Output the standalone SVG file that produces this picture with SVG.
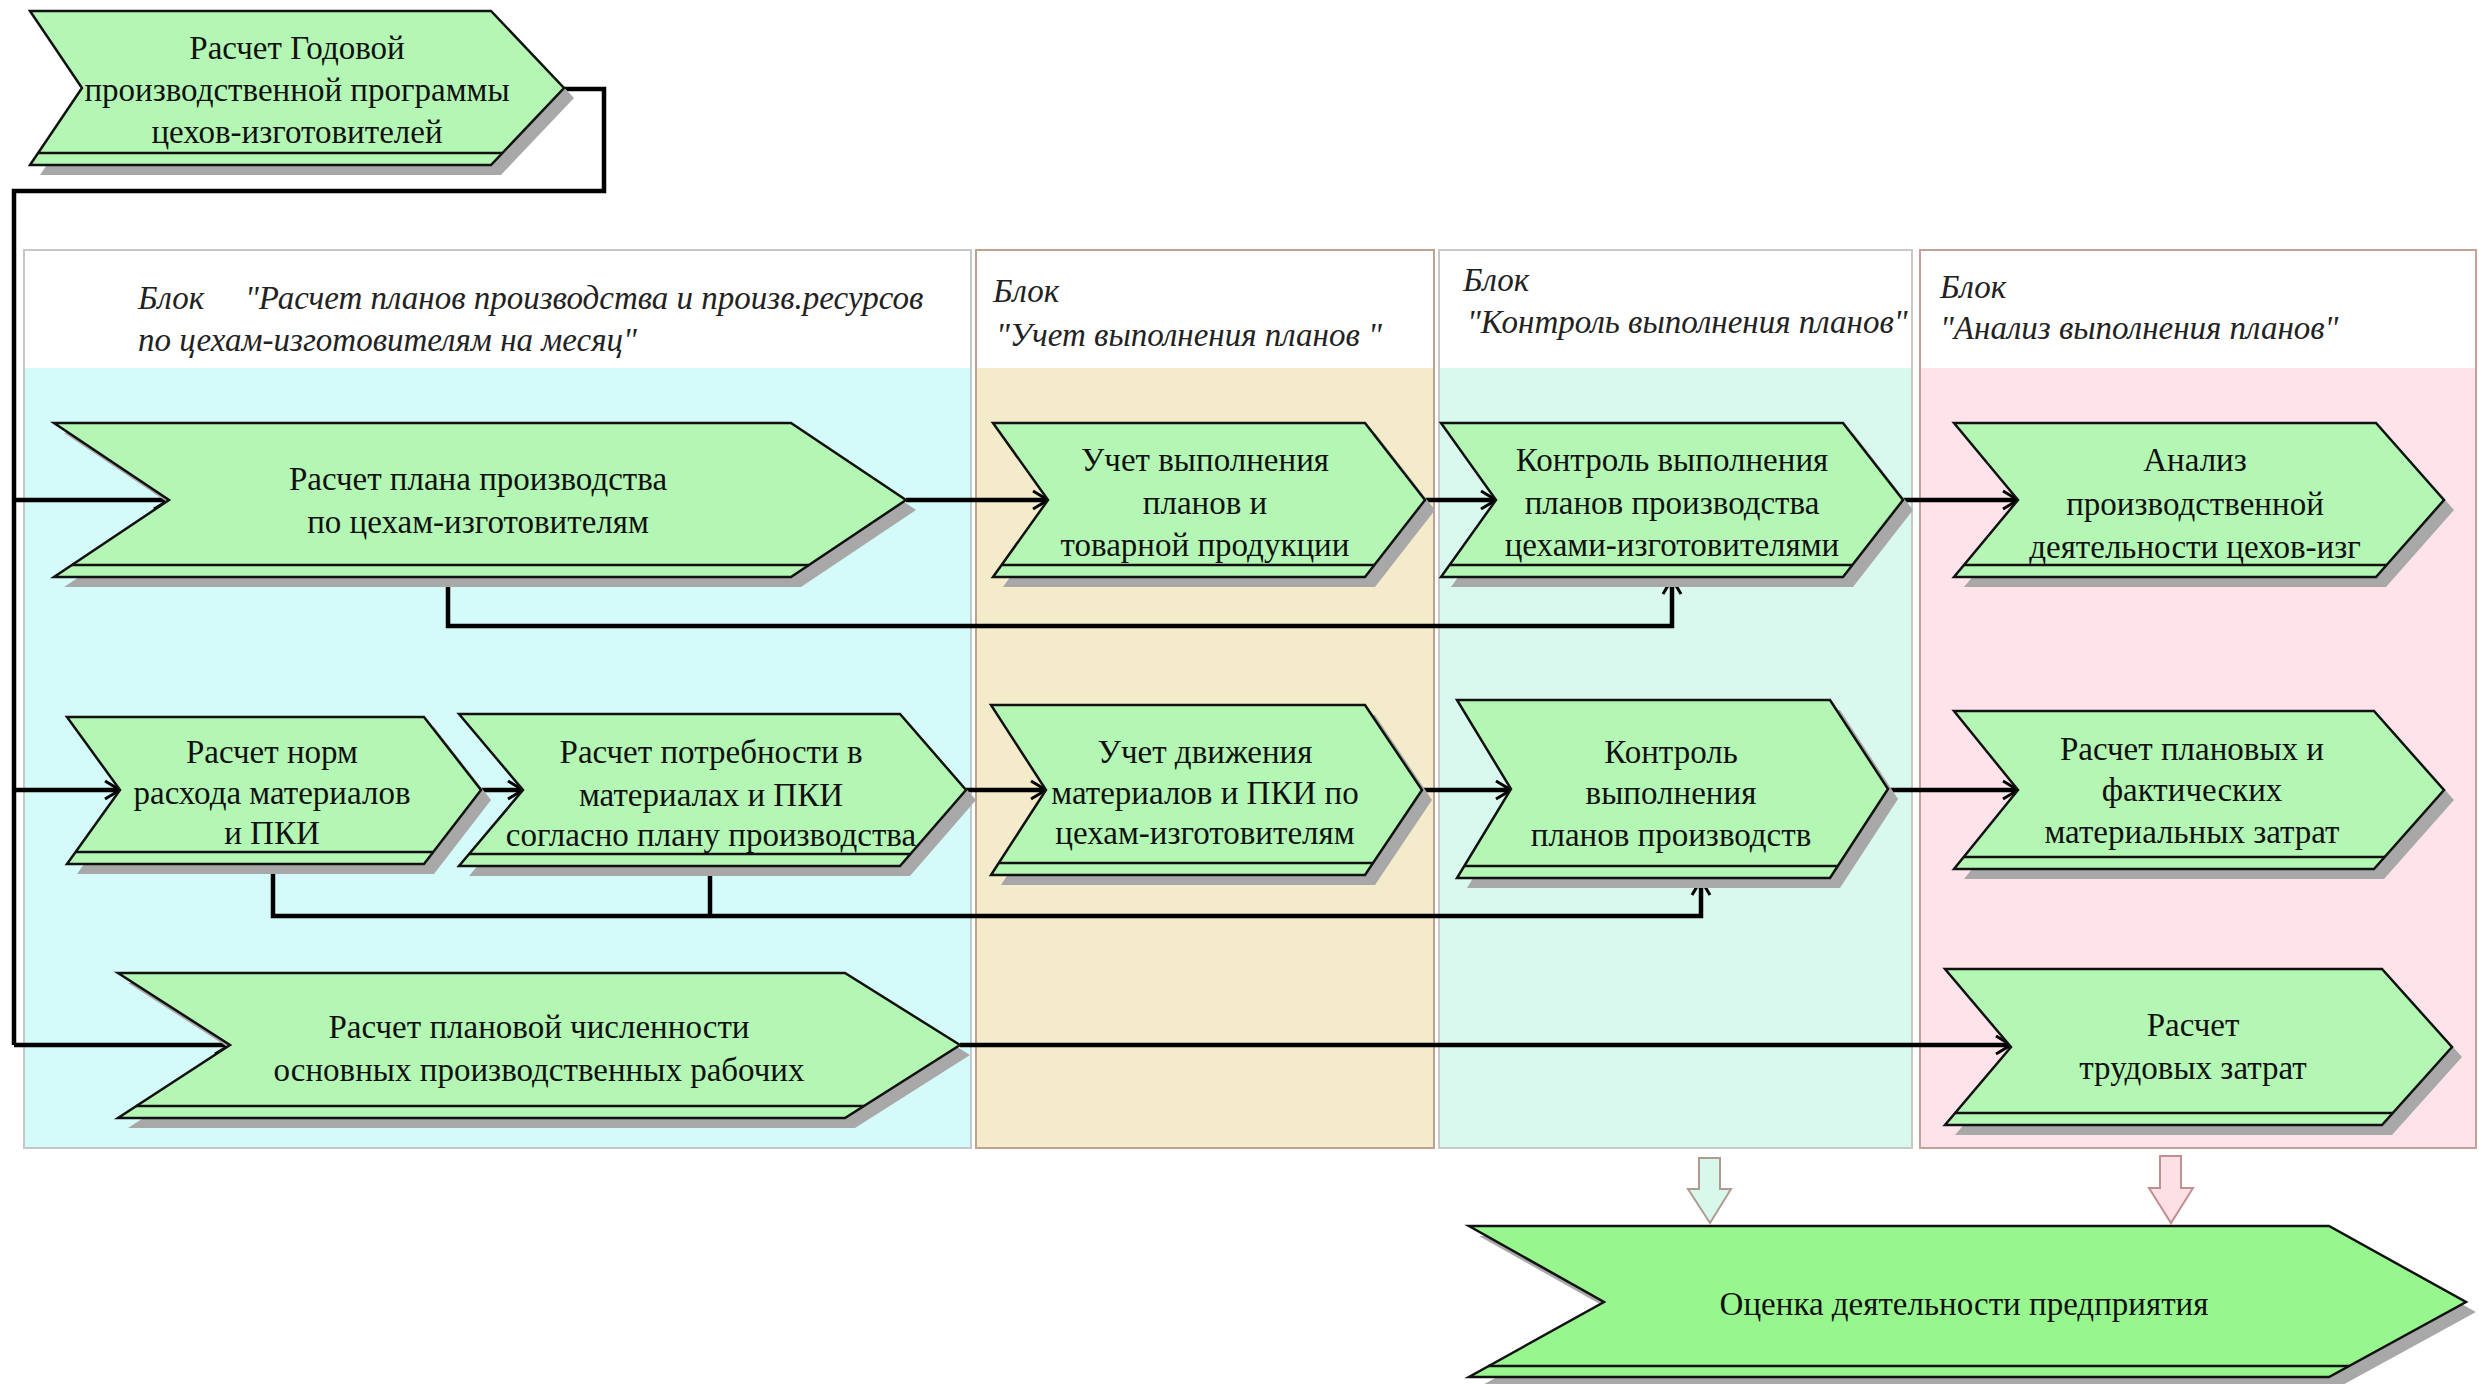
<svg xmlns="http://www.w3.org/2000/svg" width="2479" height="1384" viewBox="0 0 2479 1384">
<style>
.t{font-family:"Liberation Serif","Times New Roman",serif;font-size:33px;text-anchor:middle;fill:#111}
.h{font-family:"Liberation Serif","Times New Roman",serif;font-style:italic;font-size:33px;fill:#222}
.sh{fill:#a8a8a8}
.nd{fill:#b4f6b4;stroke:#111;stroke-width:2.5;stroke-linejoin:miter}
.nd2{fill:#98f68f;stroke:#111;stroke-width:2.5}
.bd{stroke:#111;stroke-width:2.5;fill:none}
.c{stroke:#000;stroke-width:4.5;fill:none}
.ca{stroke:#000;stroke-width:4.5;fill:none;marker-end:url(#ah)}
</style>
<defs>
<marker id="ah" markerUnits="userSpaceOnUse" markerWidth="24" markerHeight="24" viewBox="-20 -12 24 24" refX="0" refY="0" orient="auto">
<path d="M-15,-9 L0,0 L-15,9" fill="none" stroke="#000" stroke-width="3"/>
</marker>
</defs>
<rect width="2479" height="1384" fill="#fff"/>

<g id="columns">
<rect x="24" y="368" width="947" height="780" fill="#d4fbfa"/>
<rect x="24" y="250" width="947" height="898" fill="none" stroke="#c4c8c8" stroke-width="2"/>
<rect x="976" y="368" width="458" height="780" fill="#f3ebca"/>
<rect x="976" y="250" width="458" height="898" fill="none" stroke="#c0a08e" stroke-width="2"/>
<rect x="1439" y="368" width="473" height="780" fill="#d9f9ee"/>
<rect x="1439" y="250" width="473" height="898" fill="none" stroke="#c8c8c8" stroke-width="2"/>
<rect x="1920" y="368" width="556" height="780" fill="#fee4ea"/>
<rect x="1920" y="250" width="556" height="898" fill="none" stroke="#c8a09a" stroke-width="2"/>
<text class="h" x="138" y="309">Блок</text>
<text class="h" x="245" y="309">"Расчет планов производства и произв.ресурсов</text>
<text class="h" x="138" y="351">по цехам-изготовителям на месяц"</text>
<text class="h" x="993" y="302">Блок</text>
<text class="h" x="996" y="346">"Учет выполнения планов "</text>
<text class="h" x="1463" y="291">Блок</text>
<text class="h" x="1467" y="333">"Контроль выполнения планов"</text>
<text class="h" x="1940" y="298">Блок</text>
<text class="h" x="1940" y="339">"Анализ выполнения планов"</text>
</g>

<g id="connectors">
<path class="c" d="M564,89 H604 V191 H14 V1045" stroke-width="6"/>
<path class="ca" d="M14,500 H169"/>
<path class="ca" d="M14,790 H120"/>
<path class="ca" d="M14,1045 H230"/>
<path class="ca" d="M906,500 H1048"/>
<path class="ca" d="M1425,500 H1496"/>
<path class="ca" d="M1903,500 H2018"/>
<path class="ca" d="M448,577 V626 H1672 V579"/>
<path class="ca" d="M481,790 H523"/>
<path class="ca" d="M966,790 H1046"/>
<path class="ca" d="M1422,790 H1511"/>
<path class="ca" d="M1888,790 H2018"/>
<path class="ca" d="M273,864 V916 H1701 V880"/>
<path class="c" d="M710,866 V916"/>
<path class="ca" d="M960,1045 H2011"/>
<polygon points="1699,1158 1720,1158 1720,1189 1731,1189 1710,1223 1688,1189 1699,1189" fill="#d8f8ec" stroke="#b09a90" stroke-width="2"/>
<polygon points="2160,1156 2181,1156 2181,1188 2193,1188 2171,1223 2149,1188 2160,1188" fill="#fde0e6" stroke="#c09090" stroke-width="2"/>
</g>

<g id="n0">
<polygon class="sh" points="40,21 501,21 574,98 501,175 40,175 92,98"/>
<polygon class="nd" points="30,11 491,11 564,88 491,165 30,165 82,88"/>
<line class="bd" x1="38" y1="153" x2="502" y2="153"/>
<text class="t" x="297" y="59">Расчет Годовой</text>
<text class="t" x="297" y="101">производственной программы</text>
<text class="t" x="297" y="143">цехов-изготовителей</text>
</g>

<g id="nA">
<polygon class="sh" points="64,433 801,433 916,510 801,587 64,587 179,510"/>
<polygon class="nd" points="54,423 791,423 906,500 791,577 54,577 169,500"/>
<line class="bd" x1="72" y1="565" x2="809" y2="565"/>
<text class="t" x="478" y="490">Расчет плана производства</text>
<text class="t" x="478" y="533">по цехам-изготовителям</text>
</g>

<g id="nB">
<polygon class="sh" points="1003,433 1375,433 1435,510 1375,587 1003,587 1058,510"/>
<polygon class="nd" points="993,423 1365,423 1425,500 1365,577 993,577 1048,500"/>
<line class="bd" x1="1002" y1="565" x2="1374" y2="565"/>
<text class="t" x="1205" y="471">Учет выполнения</text>
<text class="t" x="1205" y="514">планов и</text>
<text class="t" x="1205" y="556">товарной продукции</text>
</g>

<g id="nC">
<polygon class="sh" points="1451,433 1853,433 1913,510 1853,587 1451,587 1506,510"/>
<polygon class="nd" points="1441,423 1843,423 1903,500 1843,577 1441,577 1496,500"/>
<line class="bd" x1="1450" y1="565" x2="1852" y2="565"/>
<text class="t" x="1672" y="471">Контроль выполнения</text>
<text class="t" x="1672" y="514">планов производства</text>
<text class="t" x="1672" y="556">цехами-изготовителями</text>
</g>

<g id="nD">
<polygon class="sh" points="1964,433 2386,433 2454,510 2386,587 1964,587 2028,510"/>
<polygon class="nd" points="1954,423 2376,423 2444,500 2376,577 1954,577 2018,500"/>
<line class="bd" x1="1964" y1="565" x2="2387" y2="565"/>
<text class="t" x="2195" y="471">Анализ</text>
<text class="t" x="2195" y="515">производственной</text>
<text class="t" x="2195" y="558">деятельности цехов-изг</text>
</g>

<g id="nE">
<polygon class="sh" points="77,727 434,727 491,800 434,874 77,874 130,800"/>
<polygon class="nd" points="67,717 424,717 481,790 424,864 67,864 120,790"/>
<line class="bd" x1="76" y1="852" x2="433" y2="852"/>
<text class="t" x="272" y="763">Расчет норм</text>
<text class="t" x="272" y="804">расхода материалов</text>
<text class="t" x="272" y="844">и ПКИ</text>
</g>

<g id="nF">
<polygon class="sh" points="469,724 910,724 976,800 910,876 469,876 533,800"/>
<polygon class="nd" points="459,714 900,714 966,790 900,866 459,866 523,790"/>
<line class="bd" x1="469" y1="854" x2="910" y2="854"/>
<text class="t" x="711" y="763">Расчет потребности в</text>
<text class="t" x="711" y="806">материалах и ПКИ</text>
<text class="t" x="711" y="846">согласно плану производства</text>
</g>

<g id="nG">
<polygon class="sh" points="1001,715 1375,715 1432,800 1375,885 1001,885 1056,800"/>
<polygon class="nd" points="991,705 1365,705 1422,790 1365,875 991,875 1046,790"/>
<line class="bd" x1="999" y1="863" x2="1373" y2="863"/>
<text class="t" x="1205" y="763">Учет движения</text>
<text class="t" x="1205" y="804">материалов и ПКИ по</text>
<text class="t" x="1205" y="844">цехам-изготовителям</text>
</g>

<g id="nH">
<polygon class="sh" points="1467,710 1840,710 1898,799 1840,888 1467,888 1521,799"/>
<polygon class="nd" points="1457,700 1830,700 1888,789 1830,878 1457,878 1511,789"/>
<line class="bd" x1="1464" y1="866" x2="1838" y2="866"/>
<text class="t" x="1671" y="763">Контроль</text>
<text class="t" x="1671" y="804">выполнения</text>
<text class="t" x="1671" y="846">планов производств</text>
</g>

<g id="nI">
<polygon class="sh" points="1964,721 2384,721 2454,800 2384,879 1964,879 2028,800"/>
<polygon class="nd" points="1954,711 2374,711 2444,790 2374,869 1954,869 2018,790"/>
<line class="bd" x1="1964" y1="857" x2="2385" y2="857"/>
<text class="t" x="2192" y="760">Расчет плановых и</text>
<text class="t" x="2192" y="801">фактических</text>
<text class="t" x="2192" y="843">материальных затрат</text>
</g>

<g id="nJ">
<polygon class="sh" points="1955,979 2392,979 2462,1057 2392,1135 1955,1135 2021,1057"/>
<polygon class="nd" points="1945,969 2382,969 2452,1047 2382,1125 1945,1125 2011,1047"/>
<line class="bd" x1="1955" y1="1113" x2="2393" y2="1113"/>
<text class="t" x="2193" y="1036">Расчет</text>
<text class="t" x="2193" y="1079">трудовых затрат</text>
</g>

<g id="nK">
<polygon class="sh" points="128,983 855,983 970,1055 855,1128 128,1128 240,1055"/>
<polygon class="nd" points="118,973 845,973 960,1045 845,1118 118,1118 230,1045"/>
<line class="bd" x1="136" y1="1106" x2="864" y2="1106"/>
<text class="t" x="539" y="1038">Расчет плановой численности</text>
<text class="t" x="539" y="1081">основных производственных рабочих</text>
</g>

<g id="nL">
<polygon class="sh" points="1479,1236 2339,1236 2476,1312 2339,1387 1479,1387 1614,1312"/>
<polygon class="nd2" points="1469,1226 2329,1226 2466,1302 2329,1377 1469,1377 1604,1302"/>
<line class="bd" x1="1488" y1="1366" x2="2349" y2="1366"/>
<text class="t" x="1964" y="1315">Оценка деятельности предприятия</text>
</g>
</svg>
